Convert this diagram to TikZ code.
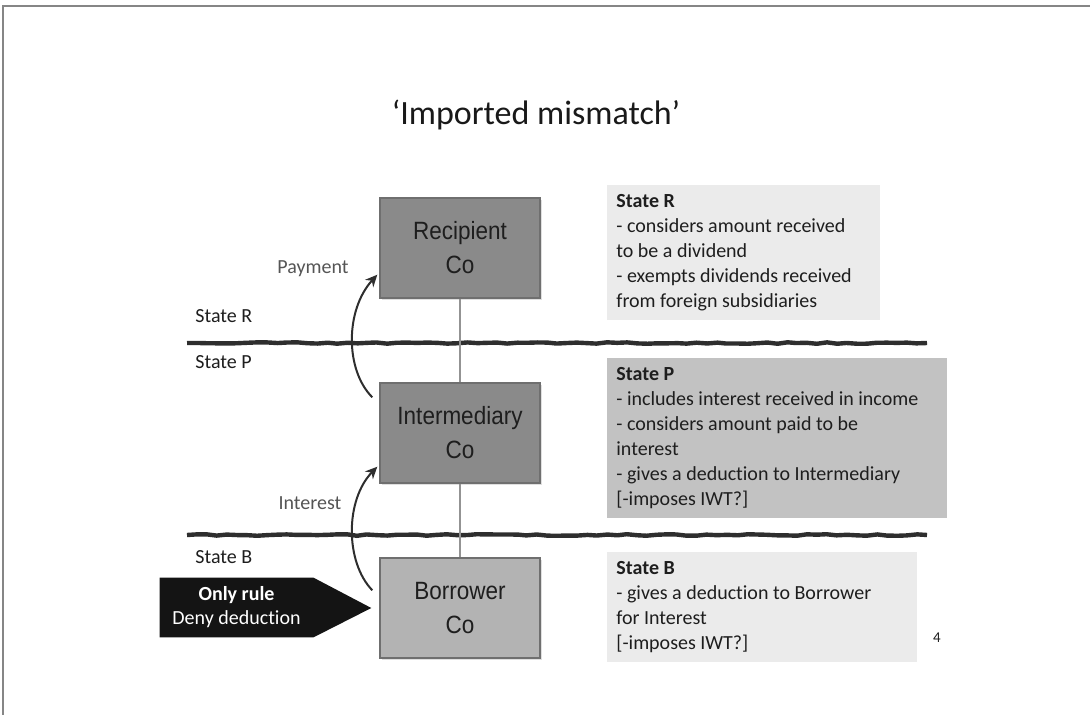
\documentclass[tikz,border=0pt]{standalone}
\usepackage{fontspec}
\setmainfont[Ligatures=NoCommon]{Carlito}
\newfontfamily\boxfont[FakeStretch=0.9]{Liberation Sans}
\usetikzlibrary{arrows.meta,decorations.pathmorphing,backgrounds,shadows}

\definecolor{darkbox}{HTML}{8A8A8A}
\definecolor{lightbox}{HTML}{B3B3B3}
\definecolor{boxedge}{HTML}{6F6F6F}
\definecolor{paleNote}{HTML}{EBEBEB}
\definecolor{midNote}{HTML}{C2C2C2}
\definecolor{labelgrey}{HTML}{555555}
\definecolor{inkdark}{HTML}{1E1E1E}

\tikzset{
  frameline/.style={line width=1pt, draw=gray!95},
  company/.style={draw=boxedge, line width=0.7pt, minimum width=80pt, minimum height=50pt,
    inner sep=0pt, align=center, text=inkdark,
    font=\boxfont\fontsize{12.5}{17}\selectfont,
    drop shadow={opacity=0.25, shadow xshift=0.8pt, shadow yshift=-0.8pt}},
  notebox/.style={anchor=north west, inner sep=0pt},
  notetext/.style={anchor=west, align=left, inner sep=0pt, text=inkdark,
    font=\fontsize{10}{12.5}\selectfont},
  statelabel/.style={anchor=west, inner sep=0pt, text=inkdark, font=\fontsize{10}{12.5}\selectfont},
  flowlabel/.style={inner sep=0pt, text=labelgrey, font=\fontsize{10}{12.5}\selectfont},
  payflow/.style={-{Stealth[length=6pt,width=5.5pt]}, line width=1pt, draw=black!82},
  divider/.style={line width=2.2pt, draw=black!82, decorate,
    decoration={random steps, segment length=5pt, amplitude=0.4pt}},
  link/.style={line width=1pt, draw=gray!85},
}

\begin{document}
\begin{tikzpicture}[x=0.5pt,y=-0.5pt]
\pgfmathsetseed{11}
\useasboundingbox (0,0) rectangle (1090,715);

% page frame
\draw[frameline] (1090,6.5) -- (2.5,6.5) -- (2.5,715);

% title
\node[inner sep=0pt, text=black!90, font=\fontsize{17}{20}\selectfont] (title) at (536,115) {‘Imported mismatch’};

% border lines between the states
\coordinate (rpL) at (187,343);
\coordinate (rpR) at (927,343);
\coordinate (pbL) at (187,535);
\coordinate (pbR) at (927,535);
\draw[divider] (rpL) -- (rpR);
\draw[divider] (pbL) -- (pbR);

% companies
\node[company, fill=darkbox] (rec) at (460,248) {Recipient\\Co};
\node[company, fill=darkbox] (inter) at (460,433) {Intermediary\\Co};
\node[company, fill=lightbox] (borr) at (460,608) {Borrower\\Co};

\draw[link] (rec.south) -- (inter.north);
\draw[link] (inter.south) -- (borr.north);

% payment flows
\draw[payflow] ([xshift=-3.5pt,yshift=-7.5pt]inter.north west)
  .. controls (345,370) and (345,310) .. ([xshift=-1pt,yshift=12pt]rec.south west);
\draw[payflow] ([xshift=-3.5pt,yshift=-16.5pt]borr.north west)
  .. controls (345,562) and (345,500) .. ([xshift=-1pt,yshift=8.5pt]inter.south west);

\node[flowlabel] (paylbl) at (313,269) {Payment};
\node[flowlabel] (intlbl) at (310,503) {Interest};

% state names on the left
\node[statelabel] (lblR) at (195,316) {State R};
\node[statelabel] (lblP) at (195,362) {State P};
\node[statelabel] (lblB) at (195,557) {State B};

% the rule that applies
\node[inner sep=0pt, minimum width=76.5pt, minimum height=29.5pt, align=center, text=white,
  font=\fontsize{10}{12}\selectfont] (rule) at (236.5,607.5) {\textbf{Only rule}\\Deny deduction};
\coordinate (tip) at ([xshift=-4pt]borr.west);
\begin{scope}[on background layer]
  \fill[black!92] (rule.north west) -- (rule.north east) -- (tip) -- (rule.south east)
    -- (rule.south west) -- cycle;
\end{scope}

% notes on each state
\node[notebox, fill=paleNote, minimum width=136.5pt, minimum height=67.5pt] (noteR) at (607,185) {};
\node[notetext] (textR) at ([xshift=4.5pt]noteR.west)
  {\textbf{State R}\\- considers amount received\\to be a dividend\\- exempts dividends received\\from foreign subsidiaries};

\node[notebox, fill=midNote, minimum width=170pt, minimum height=80pt] (noteP) at (607,358) {};
\node[notetext] (textP) at ([xshift=4.5pt]noteP.west)
  {\textbf{State P}\\- includes interest received in income\\- considers amount paid to be\\interest\\- gives a deduction to Intermediary\\{[}-imposes IWT?{]}};

\node[notebox, fill=paleNote, minimum width=155pt, minimum height=55pt] (noteB) at (607,552) {};
\node[notetext] (textB) at ([xshift=4.5pt]noteB.west)
  {\textbf{State B}\\- gives a deduction to Borrower\\for Interest\\{[}-imposes IWT?{]}};

% page number
\node[inner sep=0pt, text=inkdark, font=\fontsize{7.5}{9}\selectfont] (pgno) at (937,638) {4};
\end{tikzpicture}
\end{document}
